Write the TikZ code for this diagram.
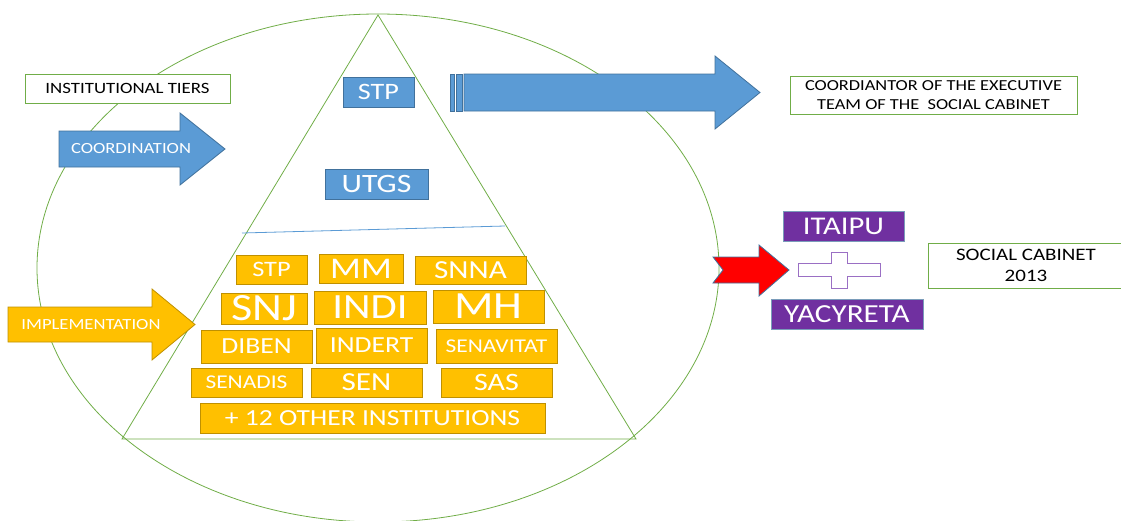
\documentclass[tikz,border=0pt]{standalone}
\usepackage{fontspec}
\setmainfont{Carlito}[FakeStretch=1.2]
\definecolor{tierblue}{HTML}{5B9BD5}
\definecolor{tierblueline}{HTML}{41719C}
\definecolor{tierorange}{HTML}{FFC000}
\definecolor{tierorangeline}{HTML}{BF9000}
\definecolor{tiergreen}{HTML}{70AD47}
\definecolor{tierpurple}{HTML}{7030A0}
\definecolor{tierlilac}{HTML}{9A6FC4}
\definecolor{tierred}{HTML}{FF0000}
\begin{document}
\begin{tikzpicture}
[x=1pt,y=-1pt,
  greenbox/.style={draw=tiergreen,line width=0.9pt,fill=white,inner sep=0pt,align=center},%
  bluebox/.style={draw=tierblueline,line width=0.8pt,fill=tierblue,text=white,inner sep=0pt},%
  orangebox/.style={draw=tierorangeline,line width=0.8pt,fill=tierorange,text=white,inner sep=0pt},%
  purplebox/.style={draw=tierblueline!70,line width=0.6pt,fill=tierpurple,text=white,inner sep=0pt},%
  blockarrow/.style={line width=0.8pt,line join=miter},%
  outline/.style={draw=tiergreen,line width=0.8pt}]
\useasboundingbox (0,0) rectangle (1121,520);
%% ellipse and pyramid
\draw[outline] (378,268) ellipse [x radius=341pt, y radius=254pt];
\coordinate (apex) at (378,15);
\coordinate (baseL) at (122,439);
\coordinate (baseR) at (636,439);
\draw[outline] (apex) -- (baseR) -- (baseL) -- cycle;
\coordinate (tierL) at (242,233);
\coordinate (tierR) at (505,226);
\draw[tierblue,line width=0.8pt] (tierL) -- (tierR);
%% block arrows
\draw[blockarrow,draw=tierblueline,fill=tierblue]
  (464,74) -- (715,74) -- (715,56) -- (760,92.5) -- (715,129) -- (715,111) -- (464,111) -- cycle;
\draw[blockarrow,draw=tierblueline,fill=tierblue] (450,74) rectangle (454,111);
\draw[blockarrow,draw=tierblueline,fill=tierblue] (456,74) rectangle (462,111);
\draw[blockarrow,draw=tierblueline,fill=tierblue]
  (59,131) -- (180,131) -- (180,113) -- (225,149) -- (180,185) -- (180,167) -- (59,167) -- cycle;
\node[text=white,font=\fontsize{15.5}{18}\selectfont] (coordtext) at (131,149) {COORDINATION};
\draw[blockarrow,draw=tierorangeline,fill=tierorange]
  (8,307) -- (152,307) -- (152,289) -- (195,324.5) -- (152,360) -- (152,342) -- (8,342) -- cycle;
\node[text=white,font=\fontsize{15.5}{18}\selectfont] (impltext) at (91,325) {IMPLEMENTATION};
\draw[blockarrow,draw=tierblueline,fill=tierred]
  (713,257) -- (759,257) -- (759,245) -- (789,270) -- (759,296) -- (759,283) -- (713,283) -- (723,270) -- cycle;
%% plus sign
\draw[blockarrow,draw=tierlilac,fill=white]
  (798,263) -- (831,263) -- (831,252) -- (847,252) -- (847,263) -- (880,263) -- (880,276)
  -- (847,276) -- (847,288) -- (831,288) -- (831,276) -- (798,276) -- cycle;
%% coordination tier
\foreach \nm/\cx/\cy/\bw/\bh/\sz/\txt in {stp/378.5/92/71/30/23.5/STP, utgs/376.5/184/103/30/26.5/UTGS} {
  \node[bluebox,minimum width=\bw pt,minimum height=\bh pt,font=\fontsize{\sz}{\sz}\selectfont] (\nm) at (\cx,\cy) {\txt};
}
%% implementation tier
\foreach \nm/\cx/\cy/\bw/\bh/\sz/\txt in {
  ostp/271.5/269.5/71/29/22/STP, mm/361/268.5/84/29/30/MM, snna/470.5/270/111/28/26/SNNA,
  snj/264/308.5/86/31/38.5/SNJ, indi/370/307.5/112/33/35.5/INDI, mh/488.5/306.5/111/33/38.5/MH,
  diben/256.5/346.5/111/33/23/DIBEN, indert/371.5/345.5/111/35/23/INDERT, senavitat/496.5/346/121/34/19.5/SENAVITAT,
  senadis/246.5/382.5/111/29/19.5/SENADIS, sen/366.5/382.5/111/29/26/SEN, sas/496.5/382.5/111/29/25/SAS,
  others/372.5/418/345/30/23/+ 12 OTHER INSTITUTIONS} {
  \node[orangebox,minimum width=\bw pt,minimum height=\bh pt,font=\fontsize{\sz}{\sz}\selectfont] (\nm) at (\cx,\cy) {\txt};
}
%% social cabinet members
\node[purplebox,minimum width=121pt,minimum height=30pt,font=\fontsize{25.5}{26}\selectfont] (itaipu) at (843.5,226) {ITAIPU};
\node[purplebox,minimum width=152pt,minimum height=30pt,font=\fontsize{26}{26}\selectfont] (yacyreta) at (847,314) {YACYRETA};
%% labels
\node[greenbox,minimum width=205pt,minimum height=29pt,font=\fontsize{15.7}{19}\selectfont] (tiers) at (127.5,88.5) {INSTITUTIONAL TIERS};
\node[greenbox,minimum width=287pt,minimum height=38pt,font=\fontsize{15.3}{19}\selectfont] (coordinator) at (933.5,95)
  {COORDIANTOR OF THE EXECUTIVE\\TEAM OF THE\ \ SOCIAL CABINET};
\node[greenbox,minimum width=196pt,minimum height=45pt,font=\fontsize{17.5}{21}\selectfont] (cabinet) at (1026,265.5)
  {SOCIAL CABINET\\2013};
\end{tikzpicture}
\end{document}
